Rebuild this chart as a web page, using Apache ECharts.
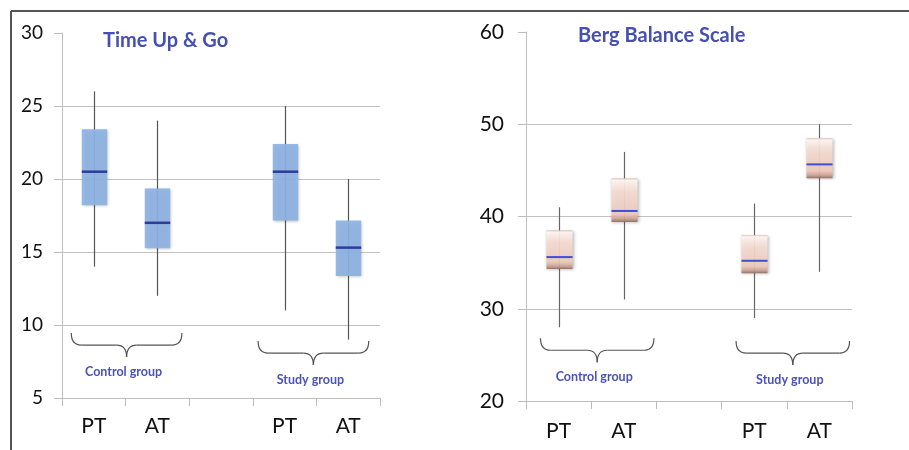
<!DOCTYPE html>
<html>
<head>
<meta charset="utf-8">
<script src="https://cdn.jsdelivr.net/npm/echarts@6/dist/echarts.min.js"></script>
<style>
html,body{margin:0;padding:0;background:#fff;}
#c{width:909px;height:450px;}
</style>
</head>
<body>
<div id="c"></div>
<script>
// ---------- data ----------
const categories = ['PT', 'AT', '', 'PT', 'AT'];
const groupNames = ['Control group', 'Study group'];
const groupSpans = [[0, 1], [3, 4]];

const tugTitle = 'Time Up & Go';
const tugTicks = [5, 10, 15, 20, 25, 30];
const tugLow    = [14,   12,    null, 11,    9];
const tugQ1     = [18.2, 15.25, null, 17.15, 13.35];
const tugMedian = [20.5, 17,    null, 20.5,  15.3];
const tugQ3     = [23.4, 19.35, null, 22.4,  17.15];
const tugHigh   = [26,   24,    null, 25,    20];

const bergTitle = 'Berg Balance Scale';
const bergTicks = [20, 30, 40, 50, 60];
const bergLow    = [28,   31,    null, 29,    34];
const bergQ1     = [34.3, 39.4,  null, 33.85, 44.15];
const bergMedian = [35.6, 40.6,  null, 35.2,  45.65];
const bergQ3     = [38.5, 44.15, null, 38,    48.5];
const bergHigh   = [41,   47,    null, 41.4,  50];

// ---------- helpers ----------
function boxData(low, q1, med, q3, high) {
  const out = [];
  categories.forEach((c, i) => {
    if (low[i] != null) out.push([i, low[i], q1[i], med[i], q3[i], high[i]]);
  });
  return out;
}
const FONT = 'Lato, "Open Sans", sans-serif';
const tugBoxStyle = {
  fill: '#8db4e2', medianColor: '#2f3a9e', medianWidth: 2.5, whisker: '#555'
};
const bergBoxStyle = {
  fill: {
    type: 'linear', x: 0, y: 0, x2: 0, y2: 1,
    colorStops: [
      { offset: 0, color: '#e2c2b7' },
      { offset: 0.05, color: '#fff6f3' },
      { offset: 0.3, color: '#f6ddd4' },
      { offset: 0.82, color: '#edcabd' },
      { offset: 0.93, color: '#cca192' },
      { offset: 1, color: '#8a6d62' }
    ]
  },
  medianColor: '#3e4fd0', medianWidth: 2, whisker: '#666'
};

function makeBoxRender(st) {
  return function (params, api) {
    const x = api.value(0);
    const pLow = api.coord([x, api.value(1)]);
    const pQ1 = api.coord([x, api.value(2)]);
    const pMed = api.coord([x, api.value(3)]);
    const pQ3 = api.coord([x, api.value(4)]);
    const pHigh = api.coord([x, api.value(5)]);
    const band = api.size([1, 0])[0];
    const w = band * 0.4;
    const cx = Math.round(pLow[0]) + 0.5;
    return {
      type: 'group',
      children: [
        { type: 'line', shape: { x1: cx, y1: pHigh[1], x2: cx, y2: pLow[1] },
          style: { stroke: st.whisker, lineWidth: 1.2 } },
        { type: 'rect', shape: { x: cx - w / 2, y: pQ3[1], width: w, height: pQ1[1] - pQ3[1] },
          style: { fill: st.fill, opacity: 0.93, shadowBlur: 3, shadowColor: 'rgba(0,0,0,0.3)', shadowOffsetY: 1, shadowOffsetX: 1 } },
        { type: 'line', shape: { x1: cx - w / 2, y1: pMed[1], x2: cx + w / 2, y2: pMed[1] },
          style: { stroke: st.medianColor, lineWidth: st.medianWidth } }
      ]
    };
  };
}

// brace: [startCat, endCat, topValue, nameIndex, dxPx]
function braceRender(params, api) {
  const a = api.value(0), b = api.value(1), top = api.value(2);
  const name = groupNames[api.value(3)];
  const dx = api.value(4);
  const p0 = api.coord([a, top]);
  const p1 = api.coord([b, top]);
  const band = api.size([1, 0])[0];
  const xc = (p0[0] + p1[0]) / 2 + dx;
  const half = band * 0.87;
  const xL = xc - half, xR = xc + half;
  const y0 = p0[1], y1 = y0 + 12, y2 = y0 + 24;
  const r = 10;
  const s = { stroke: '#555', lineWidth: 1.2, fill: null };
  return {
    type: 'group',
    children: [
      { type: 'bezierCurve', shape: { x1: xL, y1: y0, cpx1: xL, cpy1: y1, x2: xL + r, y2: y1 }, style: s },
      { type: 'line', shape: { x1: xL + r, y1: y1, x2: xc - r, y2: y1 }, style: s },
      { type: 'bezierCurve', shape: { x1: xc - r, y1: y1, cpx1: xc, cpy1: y1, x2: xc, y2: y2 }, style: s },
      { type: 'bezierCurve', shape: { x1: xc, y1: y2, cpx1: xc, cpy1: y1, x2: xc + r, y2: y1 }, style: s },
      { type: 'line', shape: { x1: xc + r, y1: y1, x2: xR - r, y2: y1 }, style: s },
      { type: 'bezierCurve', shape: { x1: xR - r, y1: y1, cpx1: xR, cpy1: y1, x2: xR, y2: y0 }, style: s },
      { type: 'text', style: { text: name, x: xc - 3, y: y2 + 15, align: 'center', verticalAlign: 'middle',
          fill: '#4a52bd', font: 'bold 12.5px ' + FONT } }
    ]
  };
}

const gridLine = { show: true, showMaxLine: false, lineStyle: { color: '#c2c2c2', width: 1 } };
const axisLineStyle = { show: true, lineStyle: { color: '#bdbdbd', width: 1 } };

const option = {
  animation: false,
  backgroundColor: '#fff',
  title: [
    { text: tugTitle, left: 103, top: 31, padding: 0, textStyle: { color: '#474fb0', fontSize: 20, fontWeight: 'bold', fontFamily: FONT } },
    { text: bergTitle, left: 578, top: 26, padding: 0, textStyle: { color: '#474fb0', fontSize: 20, fontWeight: 'bold', fontFamily: FONT } }
  ],
  grid: [
    { left: 62, top: 33, width: 318, height: 365 },
    { left: 526, top: 32, width: 326, height: 369 }
  ],
  xAxis: [
    { type: 'category', gridIndex: 0, data: categories, boundaryGap: true,
      axisLine: axisLineStyle, axisTick: { show: true, length: 8, lineStyle: { color: '#bdbdbd' } },
      axisLabel: { fontSize: 21, color: '#111', margin: 18, fontFamily: FONT }, splitLine: { show: false } },
    { type: 'category', gridIndex: 1, data: categories, boundaryGap: true,
      axisLine: axisLineStyle, axisTick: { show: true, length: 8, lineStyle: { color: '#bdbdbd' } },
      axisLabel: { fontSize: 21, color: '#111', margin: 20, fontFamily: FONT }, splitLine: { show: false } }
  ],
  yAxis: [
    { type: 'value', gridIndex: 0, min: tugTicks[0], max: tugTicks[tugTicks.length - 1], interval: 5,
      axisLine: axisLineStyle, axisTick: { show: true, length: 8, lineStyle: { color: '#bdbdbd' } },
      axisLabel: { fontSize: 19, color: '#111', margin: 19, fontFamily: FONT }, splitLine: gridLine },
    { type: 'value', gridIndex: 1, min: bergTicks[0], max: bergTicks[bergTicks.length - 1], interval: 10,
      axisLine: axisLineStyle, axisTick: { show: true, length: 8, lineStyle: { color: '#bdbdbd' } },
      axisLabel: { fontSize: 21, color: '#111', margin: 22, fontFamily: FONT }, splitLine: gridLine }
  ],
  graphic: [
    { type: 'line', shape: { x1: 11, y1: 11, x2: 909, y2: 11 }, style: { stroke: '#555', lineWidth: 2 } },
    { type: 'line', shape: { x1: 11, y1: 11, x2: 11, y2: 450 }, style: { stroke: '#555', lineWidth: 2 } }
  ],
  series: [
    { type: 'custom', xAxisIndex: 0, yAxisIndex: 0, renderItem: makeBoxRender(tugBoxStyle),
      encode: { x: 0, y: [1, 2, 3, 4, 5] }, data: boxData(tugLow, tugQ1, tugMedian, tugQ3, tugHigh), z: 3 },
    { type: 'custom', xAxisIndex: 1, yAxisIndex: 1, renderItem: makeBoxRender(bergBoxStyle),
      encode: { x: 0, y: [1, 2, 3, 4, 5] }, data: boxData(bergLow, bergQ1, bergMedian, bergQ3, bergHigh), z: 3 },
    { type: 'custom', xAxisIndex: 0, yAxisIndex: 0, renderItem: braceRender, clip: false,
      encode: { x: [0, 1], y: 2 },
      data: [[groupSpans[0][0], groupSpans[0][1], 9.45, 0, 1], [groupSpans[1][0], groupSpans[1][1], 8.9, 1, -3]] },
    { type: 'custom', xAxisIndex: 1, yAxisIndex: 1, renderItem: braceRender, clip: false,
      encode: { x: [0, 1], y: 2 },
      data: [[groupSpans[0][0], groupSpans[0][1], 26.8, 0, 6], [groupSpans[1][0], groupSpans[1][1], 26.5, 1, 6]] }
  ]
};
const chart = echarts.init(document.getElementById('c'), null, { renderer: 'canvas' });
chart.setOption(option);
</script>
</body>
</html>
